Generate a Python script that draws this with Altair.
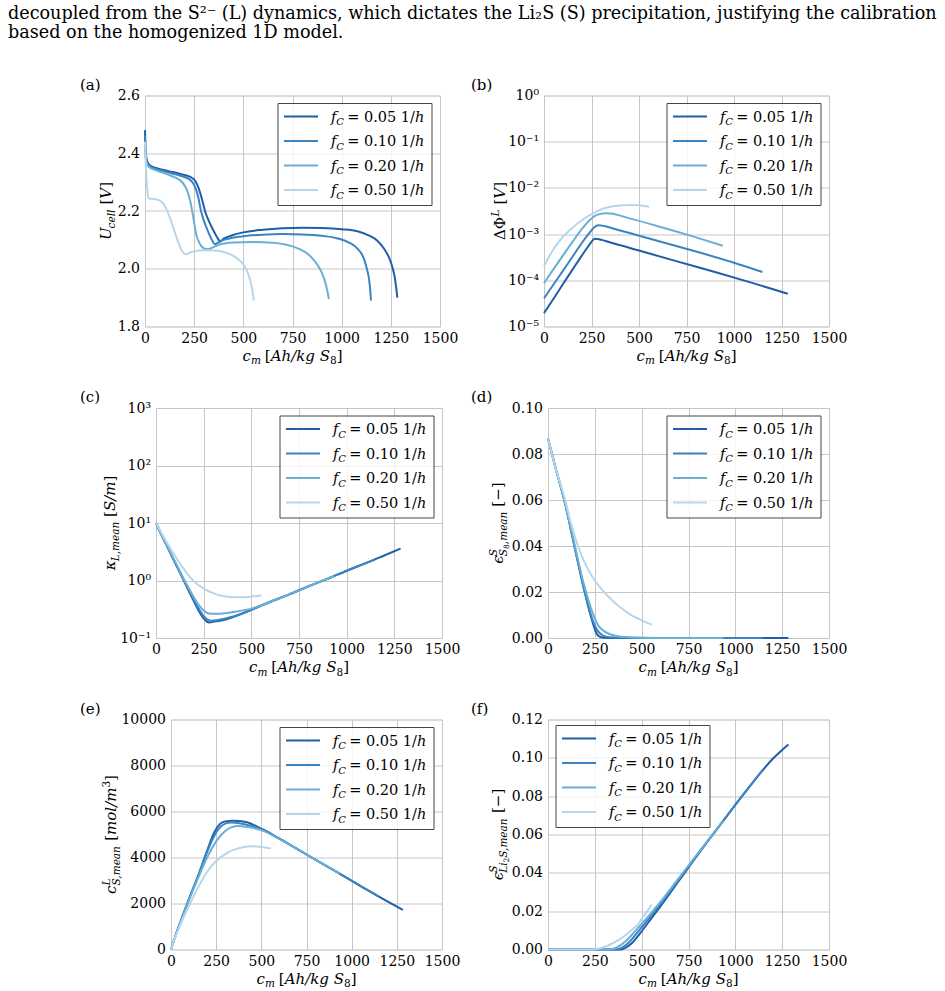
import altair as alt
import pandas as pd

SERIF = "DejaVu Serif"
GRID = "#c6c6c6"
RATES = ["0.05", "0.10", "0.20", "0.50"]
COLORS = ["#1f5fa8", "#3a84c1", "#6baed6", "#b8d6eb"]
CM_TICKS = [0, 250, 500, 750, 1000, 1250, 1500]

HEADER_1 = ("decoupled from the S\u00b2\u207b (L) dynamics, which dictates the Li\u2082S (S) "
            "precipitation, justifying the calibration")
HEADER_2 = "based on the homogenized 1D model."

# (a) cell voltage U_cell [V]
ucell_005_cm = [0, 4, 12, 25, 60, 120, 180, 230, 255, 275, 292, 305, 325, 350, 370, 382, 400, 440, 500, 600,
                700, 800, 900, 1000, 1080, 1140, 1180, 1215, 1240, 1258, 1270, 1278, 1283]
ucell_005_v = [2.48, 2.40, 2.37, 2.358, 2.348, 2.338, 2.328, 2.318, 2.305, 2.275, 2.235, 2.20, 2.165, 2.13, 2.105,
               2.095, 2.104, 2.115, 2.126, 2.135, 2.140, 2.142, 2.141, 2.137, 2.130, 2.115, 2.098, 2.070, 2.040,
               2.005, 1.970, 1.930, 1.900]
ucell_010_cm = [0, 4, 12, 25, 60, 120, 180, 225, 250, 270, 285, 300, 320, 340, 355, 370, 400, 450, 520, 600,
                700, 800, 900, 980, 1040, 1080, 1110, 1128, 1140, 1146, 1149]
ucell_010_v = [2.46, 2.39, 2.365, 2.355, 2.345, 2.333, 2.322, 2.31, 2.29, 2.25, 2.20, 2.165, 2.13, 2.10, 2.085,
               2.09, 2.10, 2.108, 2.114, 2.118, 2.12, 2.119, 2.114, 2.105, 2.09, 2.07, 2.04, 2.00, 1.96, 1.92, 1.89]
ucell_020_cm = [0, 4, 12, 25, 60, 120, 170, 195, 215, 230, 245, 260, 280, 300, 320, 345, 380, 450, 550, 650,
                720, 780, 830, 870, 900, 918, 928, 935]
ucell_020_v = [2.44, 2.38, 2.36, 2.35, 2.34, 2.325, 2.31, 2.295, 2.27, 2.235, 2.18, 2.12, 2.085, 2.07, 2.068,
               2.074, 2.084, 2.091, 2.093, 2.09, 2.083, 2.07, 2.05, 2.02, 1.985, 1.95, 1.92, 1.895]
ucell_050_cm = [0, 5, 12, 20, 40, 70, 90, 110, 130, 150, 170, 185, 200, 210, 225, 250, 300, 350, 400, 440,
                470, 500, 520, 535, 545, 553]
ucell_050_v = [2.44, 2.35, 2.27, 2.243, 2.242, 2.238, 2.228, 2.205, 2.17, 2.13, 2.09, 2.065, 2.052, 2.05, 2.055,
               2.06, 2.064, 2.063, 2.058, 2.048, 2.035, 2.015, 1.99, 1.96, 1.93, 1.89]

# (b) electrolyte potential drop dPhi^L [V]
dphi_005_cm = [0, 50, 100, 150, 200, 235, 255, 265, 280, 350, 500, 700, 900, 1100, 1283]
dphi_005_v = [1.95e-5, 3.98e-5, 8.3e-5, 1.7e-4, 3.47e-4, 5.6e-4, 7.2e-4, 7.9e-4, 7.8e-4, 6.6e-4, 4.4e-4,
              2.57e-4, 1.51e-4, 8.7e-5, 5.1e-5]
dphi_010_cm = [0, 50, 100, 150, 200, 240, 265, 285, 300, 400, 600, 800, 1000, 1150]
dphi_010_v = [4.07e-5, 8.1e-5, 1.62e-4, 3.24e-4, 6.5e-4, 1.07e-3, 1.41e-3, 1.55e-3, 1.53e-3, 1.2e-3, 7.1e-4,
              4.2e-4, 2.4e-4, 1.51e-4]
dphi_020_cm = [0, 50, 100, 150, 200, 240, 270, 300, 325, 350, 450, 600, 800, 941]
dphi_020_v = [8.7e-5, 1.74e-4, 3.47e-4, 6.8e-4, 1.3e-3, 2.0e-3, 2.5e-3, 2.75e-3, 2.82e-3, 2.79e-3, 2.19e-3,
              1.48e-3, 8.5e-4, 5.6e-4]
dphi_050_cm = [0, 25, 50, 75, 100, 150, 200, 250, 300, 350, 400, 450, 500, 553]
dphi_050_v = [2.0e-4, 3.16e-4, 4.7e-4, 6.6e-4, 8.7e-4, 1.38e-3, 2.0e-3, 2.7e-3, 3.4e-3, 3.9e-3, 4.17e-3,
              4.27e-3, 4.2e-3, 3.9e-3]

# (c) mean electrolyte conductivity [S/m]
kappa_005_cm = [0, 25, 50, 100, 150, 200, 230, 250, 265, 280, 300, 350, 400, 500, 600, 700, 800, 900, 1000,
                1100, 1200, 1283]
kappa_005_v = [10, 6.61, 4.47, 2.04, 0.933, 0.427, 0.275, 0.219, 0.195, 0.186, 0.191, 0.204, 0.229, 0.309,
               0.427, 0.575, 0.794, 1.07, 1.48, 2.0, 2.75, 3.59]
kappa_010_cm = [0, 25, 50, 100, 150, 200, 230, 250, 270, 290, 320, 360, 400, 500, 600, 700, 800, 900, 1000,
                1100, 1148]
kappa_010_v = [10, 6.61, 4.47, 2.04, 0.955, 0.457, 0.302, 0.240, 0.209, 0.200, 0.204, 0.216, 0.234, 0.309,
               0.427, 0.575, 0.794, 1.07, 1.48, 2.0, 2.32]
kappa_020_cm = [0, 25, 50, 100, 150, 200, 230, 260, 290, 320, 360, 400, 500, 600, 700, 800, 935]
kappa_020_v = [10, 6.76, 4.57, 2.14, 1.0, 0.501, 0.355, 0.282, 0.263, 0.263, 0.269, 0.282, 0.324, 0.427,
               0.575, 0.794, 1.20]
kappa_050_cm = [0, 25, 50, 100, 150, 200, 250, 300, 350, 400, 450, 500, 553]
kappa_050_v = [10, 7.08, 5.01, 2.69, 1.51, 0.955, 0.724, 0.603, 0.537, 0.513, 0.513, 0.525, 0.550]

# (d) mean S8 volume fraction [-]
es8_005_cm = [0, 40, 87, 141, 196, 225, 245, 258, 270, 285, 300, 350, 500, 800, 1100, 1283]
es8_005_v = [0.0867, 0.074, 0.06, 0.04, 0.02, 0.0105, 0.005, 0.0022, 0.0009, 0.0003, 0.0001, 0, 0, 0, 0, 0]
es8_010_cm = [0, 40, 87, 141, 196, 225, 248, 265, 280, 300, 330, 400, 600, 900, 1148]
es8_010_v = [0.0867, 0.074, 0.06, 0.04, 0.02, 0.011, 0.0058, 0.0032, 0.0018, 0.0008, 0.0003, 0.0001, 0, 0, 0]
es8_020_cm = [0, 40, 87, 141, 180, 210, 240, 268, 300, 359, 420, 500, 600, 750, 935]
es8_020_v = [0.0867, 0.074, 0.06, 0.041, 0.027, 0.018, 0.0105, 0.0055, 0.003, 0.001, 0.0004, 0.0001, 0, 0, 0]
es8_050_cm = [0, 40, 92, 122, 160, 200, 250, 310, 375, 440, 500, 555]
es8_050_v = [0.0867, 0.074, 0.06, 0.05, 0.04, 0.032, 0.025, 0.019, 0.014, 0.0102, 0.0077, 0.0058]

# (e) mean dissolved sulfide concentration [mol/m^3]
csl_005_cm = [0, 25, 50, 100, 150, 200, 240, 270, 300, 340, 380, 420, 500, 600, 750, 900, 1050, 1200, 1283]
csl_005_v = [0, 600, 1150, 2200, 3200, 4300, 5100, 5450, 5570, 5600, 5590, 5530, 5250, 4820, 4130, 3450, 2760,
             2080, 1720]
csl_010_cm = [0, 25, 50, 100, 150, 200, 240, 270, 300, 330, 360, 400, 450, 500, 600, 750, 900, 1050, 1148]
csl_010_v = [0, 600, 1150, 2200, 3200, 4250, 4950, 5300, 5470, 5520, 5510, 5460, 5360, 5230, 4820, 4130, 3450,
             2760, 2310]
csl_020_cm = [0, 25, 50, 100, 150, 200, 250, 300, 340, 370, 400, 450, 500, 600, 750, 935]
csl_020_v = [0, 580, 1120, 2150, 3100, 4000, 4700, 5150, 5330, 5370, 5350, 5290, 5190, 4800, 4130, 3300]
csl_050_cm = [0, 25, 50, 100, 150, 200, 250, 300, 350, 400, 450, 500, 553]
csl_050_v = [0, 560, 1050, 1900, 2700, 3380, 3850, 4150, 4340, 4450, 4490, 4460, 4390]

# (f) mean Li2S volume fraction [-]
eli_005_cm = [0, 380, 400, 420, 450, 500, 550, 600, 700, 800, 900, 1000, 1100, 1200, 1283]
eli_005_v = [0, 0, 0.0003, 0.0012, 0.0035, 0.0095, 0.016, 0.0225, 0.036, 0.0495, 0.0625, 0.0755, 0.088,
             0.0995, 0.107]
eli_010_cm = [0, 360, 380, 400, 430, 470, 500, 550, 600, 700, 800, 900, 1000, 1100, 1148]
eli_010_v = [0, 0, 0.0003, 0.0012, 0.0035, 0.008, 0.0115, 0.0175, 0.0237, 0.0368, 0.0498, 0.0627, 0.0755,
             0.088, 0.094]
eli_020_cm = [0, 330, 350, 380, 420, 460, 500, 550, 600, 700, 800, 935]
eli_020_v = [0, 0, 0.0004, 0.0018, 0.0048, 0.009, 0.0133, 0.019, 0.0248, 0.0375, 0.0502, 0.0673]
eli_050_cm = [0, 240, 260, 300, 340, 380, 420, 460, 480, 500, 530, 553]
eli_050_v = [0, 0, 0.0003, 0.0013, 0.003, 0.0052, 0.008, 0.0113, 0.013, 0.016, 0.020, 0.0235]

ONE = pd.DataFrame({"k": [0]})

# rough advance widths (em) of DejaVu Serif, used to set math-like titles piece by piece
ADV = {" ": .318, ".": .318, ",": .318, "/": .337, "[": .39, "]": .39, "(": .39, ")": .39, "=": .838,
       "\u2212": .838, "\u0394": .722, "\u03a6": .85, "\u03ba": .6, "\u03f5": .5,
       "A": .722, "C": .734, "L": .653, "S": .685, "U": .773, "V": .722,
       "a": .596, "c": .564, "e": .592, "f": .37, "g": .64, "h": .644, "i": .32, "k": .61, "l": .32,
       "m": .948, "n": .644, "o": .602}
for d in "0123456789":
    ADV[d] = .636


def adv(s, size):
    return sum(ADV.get(ch, 0.6) for ch in s) * size


def rich(segs, x0, y0, vertical=False, centered=True):
    """segs: (text, size, italic, shift, advances) tuples or a float gap in px."""
    total = 0.0
    for s in segs:
        if isinstance(s, (int, float)):
            total += s
        elif s[4]:
            total += adv(s[0], s[1])
    pos = -total / 2 if centered else 0.0
    out = []
    for s in segs:
        if isinstance(s, (int, float)):
            pos += s
            continue
        t, sz, it, sh, mv = s
        if vertical:
            x, y, ang = x0 + sh, y0 - pos, 270
        else:
            x, y, ang = x0 + pos, y0 + sh, 0
        out.append(
            alt.Chart(ONE).mark_text(
                text=t, font=SERIF, fontSize=sz, fontStyle="italic" if it else "normal",
                align="left", baseline="alphabetic", angle=ang, color="black"
            ).encode(x=alt.value(x), y=alt.value(y))
        )
        if mv:
            pos += adv(t, sz)
    return out


def x_axis():
    return alt.Axis(values=CM_TICKS, format="d", title=None, labelFlush=False, labelOverlap=False,
                    grid=True, gridColor=GRID, gridWidth=1, domain=False, ticks=False,
                    labelFont=SERIF, labelFontSize=14, labelColor="black", labelPadding=4.5)


def y_axis(values, fmt=None, expr=None):
    kw = dict(values=values, title=None, labelFlush=False, labelOverlap=False, grid=True, gridColor=GRID,
              gridWidth=1, domain=False, ticks=False, labelFont=SERIF,
              labelFontSize=14, labelColor="black", labelPadding=5.5)
    if fmt:
        kw["format"] = fmt
    if expr:
        kw["labelExpr"] = expr
    return alt.Axis(**kw)


SUP = {-5: "\u207b\u2075", -4: "\u207b\u2074", -3: "\u207b\u00b3", -2: "\u207b\u00b2", -1: "\u207b\u00b9",
       0: "\u2070", 1: "\u00b9", 2: "\u00b2", 3: "\u00b3"}


def decade_expr(lo, hi):
    e = "round(log(datum.value)/LN10)"
    body = "''"
    for k in range(lo, hi + 1):
        body = f"({e} == {k} ? '{SUP[k]}' : {body})"
    return "'10' + " + body


LEG_FS = 14.5


def legend(left, top):
    out = [alt.Chart(ONE).mark_rect(fill="white", fillOpacity=0.8, stroke="#444444", strokeWidth=1).encode(
        x=alt.value(left), x2=alt.value(left + 154), y=alt.value(top), y2=alt.value(top + 102))]
    for i, (rate, col) in enumerate(zip(RATES, COLORS)):
        ry = top + 13 + i * 24.5
        out.append(alt.Chart(ONE).mark_rule(color=col, strokeWidth=2).encode(
            x=alt.value(left + 6), x2=alt.value(left + 40), y=alt.value(ry)))
        segs = [("f", LEG_FS, True, 0, True), ("C", 10, True, 3.5, True), 3.5,
                (f"= {rate} 1/", LEG_FS, False, 0, True), ("h", LEG_FS, True, 0, True)]
        out += rich(segs, left + 53, ry + 5, centered=False)
    return out


X_TITLE = [("c", 15, True, 0, True), ("m", 10.5, True, 3.5, True), 4, ("[", 15, False, 0, True),
           ("Ah/kg S", 15, True, 0, True), ("8", 10.5, False, 3.5, True), ("]", 15, False, 0, True)]


def panel(series, width, height, yscale, yaxis, ytitle, ytitle_x, tag, tag_x, leg_left, leg_top):
    layers = []
    for (cm, val), col in zip(series, COLORS):
        df = pd.DataFrame({"cm": cm, "val": val})
        layers.append(alt.Chart(df).mark_line(color=col, strokeWidth=2, interpolate="monotone").encode(
            x=alt.X("cm:Q", scale=alt.Scale(domain=[0, 1500], nice=False, zero=False), axis=x_axis()),
            y=alt.Y("val:Q", scale=yscale, axis=yaxis)))
    layers += legend(leg_left, leg_top)
    layers += rich(ytitle, ytitle_x, height / 2, vertical=True)
    layers += rich(X_TITLE, width / 2, height + 34)
    layers.append(alt.Chart(ONE).mark_text(text=tag, font=SERIF, fontSize=15, align="left",
                                           baseline="alphabetic", color="black").encode(
        x=alt.value(tag_x), y=alt.value(-6)))
    return alt.layer(*layers).properties(width=width, height=height)


def spacer(w, top=1, bottom=1):
    # empty cell reserving horizontal room; its invisible rule fixes the row's vertical extent
    return alt.Chart(ONE).mark_rule(opacity=0).encode(
        x=alt.value(1), y=alt.value(top), y2=alt.value(bottom)
    ).properties(width=w, height=1, view=alt.ViewBackground(stroke="transparent"))


SUB = 3.5
SUPS = -6
p_a = panel([(ucell_005_cm, ucell_005_v), (ucell_010_cm, ucell_010_v), (ucell_020_cm, ucell_020_v),
             (ucell_050_cm, ucell_050_v)], 295, 231,
            alt.Scale(domain=[1.8, 2.6], nice=False, zero=False),
            y_axis([1.8, 2.0, 2.2, 2.4, 2.6], ".1f"),
            [("U", 15, True, 0, True), ("cell", 10.5, True, SUB, True), 5, ("[", 15, False, 0, True),
             ("V", 15, True, 0, True), ("]", 15, False, 0, True)],
            -34, "(a)", 79 - 144, 295 - 162, 8)

p_b = panel([(dphi_005_cm, dphi_005_v), (dphi_010_cm, dphi_010_v), (dphi_020_cm, dphi_020_v),
             (dphi_050_cm, dphi_050_v)], 285, 231,
            alt.Scale(type="log", domain=[1e-5, 1], nice=False),
            y_axis([1e-5, 1e-4, 1e-3, 1e-2, 1e-1, 1], expr=decade_expr(-5, 0)),
            [("\u0394\u03a6", 15, False, 0, True), ("L", 10.5, True, SUPS, True), 5, ("[", 15, False, 0, True),
             ("V", 15, True, 0, True), ("]", 15, False, 0, True)],
            -39, "(b)", 470 - 543, 285 - 162, 8)

p_c = panel([(kappa_005_cm, kappa_005_v), (kappa_010_cm, kappa_010_v), (kappa_020_cm, kappa_020_v),
             (kappa_050_cm, kappa_050_v)], 286, 230,
            alt.Scale(type="log", domain=[0.1, 1000], nice=False),
            y_axis([0.1, 1, 10, 100, 1000], expr=decade_expr(-1, 3)),
            [("\u03ba", 15, True, 0, True), ("L,mean", 10.5, True, SUB, True), 5, ("[", 15, False, 0, True),
             ("S/m", 15, True, 0, True), ("]", 15, False, 0, True)],
            -41, "(c)", 79 - 155, 286 - 162, 8)

p_d = panel([(es8_005_cm, es8_005_v), (es8_010_cm, es8_010_v), (es8_020_cm, es8_020_v),
             (es8_050_cm, es8_050_v)], 281, 230,
            alt.Scale(domain=[0, 0.1], nice=False),
            y_axis([0, 0.02, 0.04, 0.06, 0.08, 0.10], ".2f"),
            [("\u03f5", 15, True, 0, True), ("S", 10.5, True, SUPS, False), ("S", 10.5, True, SUB, True),
             ("8", 7.5, False, 5.5, True), (",mean", 10.5, True, SUB, True), 5,
             ("[\u2212]", 15, False, 0, True)],
            -45, "(d)", 470 - 547, 281 - 162, 8)

p_e = panel([(csl_005_cm, csl_005_v), (csl_010_cm, csl_010_v), (csl_020_cm, csl_020_v),
             (csl_050_cm, csl_050_v)], 271, 230,
            alt.Scale(domain=[0, 10000], nice=False),
            y_axis([0, 2000, 4000, 6000, 8000, 10000], "d"),
            [("c", 15, True, 0, True), ("L", 10.5, True, SUPS, False), ("S,mean", 10.5, True, SUB, True), 5,
             ("[", 15, False, 0, True), ("mol/m", 15, True, 0, True), ("3", 10.5, False, SUPS, True),
             ("]", 15, False, 0, True)],
            -55, "(e)", 79 - 170, 271 - 162, 8)

p_f = panel([(eli_005_cm, eli_005_v), (eli_010_cm, eli_010_v), (eli_020_cm, eli_020_v),
             (eli_050_cm, eli_050_v)], 281, 230,
            alt.Scale(domain=[0, 0.12], nice=False),
            y_axis([0, 0.02, 0.04, 0.06, 0.08, 0.10, 0.12], ".2f"),
            [("\u03f5", 15, True, 0, True), ("S", 10.5, True, SUPS, False), ("Li", 10.5, True, SUB, True),
             ("2", 7.5, False, 5.5, True), ("S,mean", 10.5, True, SUB, True), 5,
             ("[\u2212]", 15, False, 0, True)],
            -45, "(f)", 470 - 547, 8, 6)

HEADER_SIZE = 17.6
header = alt.layer(
    alt.Chart(ONE).mark_text(text=HEADER_1, font=SERIF, fontSize=HEADER_SIZE, align="left",
                             baseline="alphabetic", color="black").encode(x=alt.value(0), y=alt.value(17.5)),
    alt.Chart(ONE).mark_text(text=HEADER_2, font=SERIF, fontSize=HEADER_SIZE, align="left",
                             baseline="alphabetic", color="black").encode(x=alt.value(0), y=alt.value(36.5)),
).properties(width=1, height=58, view=alt.ViewBackground(stroke="transparent"))

# each row: left margin, left panel, gutter, right panel (flush: plot areas only)
row1 = alt.hconcat(spacer(137, -25, 276), p_a, spacer(104), p_b, spacing=0, bounds="flush")
row2 = alt.hconcat(spacer(148, -25, 275), p_c, spacer(106), p_d, spacing=0, bounds="flush")
row3 = alt.hconcat(spacer(163, -25, 200), p_e, spacer(106), p_f, spacing=0, bounds="flush")

chart = alt.vconcat(header, row1, row2, row3, spacing=9.5, bounds="full").properties(
    padding={"left": 7, "top": 0, "right": 2, "bottom": 2}
).configure_view(stroke="black", strokeWidth=1).configure(background="white")

chart.save("out.html", embed_options={"renderer": "svg", "actions": False})
